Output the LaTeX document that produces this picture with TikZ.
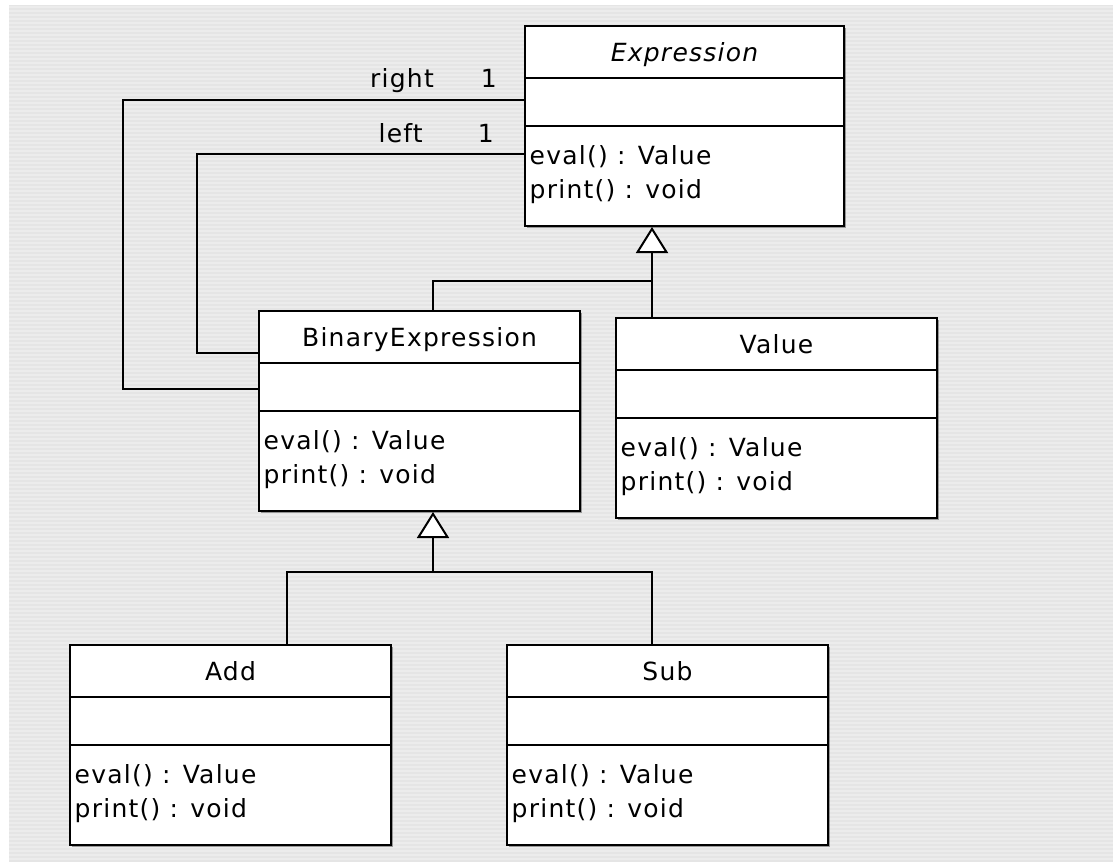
\documentclass[tikz,border=0pt]{standalone}
\usepackage{fontspec}
\setmainfont{DejaVu Sans}[LetterSpace=5]
\usetikzlibrary{arrows.meta,shadows}

\definecolor{bgdark}{HTML}{E5E5E5}
\definecolor{bglight}{HTML}{ECECEC}

\tikzset{
  classbox/.style={draw=black, line width=2pt, fill=white, minimum height=200pt,
    inner sep=0pt,
    drop shadow={shadow xshift=2pt, shadow yshift=-2pt, opacity=0.35, fill=black}},
  divider/.style={line width=2pt},
  txt/.style={inner sep=0pt, font=\fontsize{25}{29}\selectfont, text=black},
  conn/.style={line width=2pt},
  inherit/.style={conn, -{Triangle[fill=white, length=26pt, width=32pt]}},
  stripe/.style={bglight, line width=2pt},
}

% One UML class: name, top-left corner, width, title
\newcommand\umlclass[4]{%
  \node[classbox, minimum width=#3pt, anchor=north west] (#1) at (#2) {};
  \draw[divider] ([yshift=-53pt]#1.north west) -- ([yshift=-53pt]#1.north east);
  \draw[divider] ([yshift=-101pt]#1.north west) -- ([yshift=-101pt]#1.north east);
  \node[txt, anchor=base] (#1-title) at ([yshift=-36pt]#1.north) {#4};
  \node[txt, anchor=base west] (#1-op1) at ([xshift=5.5pt,yshift=-139pt]#1.north west) {eval() : Value};
  \node[txt, anchor=base west] (#1-op2) at ([xshift=5.5pt,yshift=-173pt]#1.north west) {print() : void};
}

\begin{document}
\begin{tikzpicture}[x=1pt,y=-1pt]
  \useasboundingbox (0,0) rectangle (1113,862);
  % striped canvas
  \fill[white] (0,0) rectangle (1113,862);
  \fill[bgdark] (9,5) rectangle (1113,862);
  \foreach \y in {7,11,...,862} \draw[stripe] (9,\y) -- (1113,\y);

  % classes
  \umlclass{Expression}{524,25}{319}{\itshape Expression}
  \umlclass{BinaryExpression}{258,310}{321}{BinaryExpression}
  \umlclass{Value}{615,317}{321}{Value}
  \umlclass{Add}{69,644}{321}{Add}
  \umlclass{Sub}{506,644}{321}{Sub}

  % generalisation: BinaryExpression, Value -> Expression
  \coordinate (g1l) at (433,281);
  \coordinate (g1r) at (652,281);
  \draw[conn] (BinaryExpression.north -| g1l) -- (g1l) -- (g1r);
  \draw[conn] (Value.north -| g1r) -- (g1r);
  \draw[inherit] (g1r) -- (Expression.south -| g1r);

  % generalisation: Add, Sub -> BinaryExpression
  \coordinate (g2l) at (287,572);
  \coordinate (g2m) at (433,572);
  \coordinate (g2r) at (652,572);
  \draw[conn] (Add.north -| g2l) -- (g2l) -- (g2r) -- (Sub.north -| g2r);
  \draw[inherit] (g2m) -- (BinaryExpression.south -| g2m);

  % associations right / left
  \coordinate (r1) at (123,100);
  \coordinate (r2) at (123,389);
  \draw[conn] (Expression.west |- r1) -- (r1) -- (r2) -- (BinaryExpression.west |- r2);
  \coordinate (l1) at (197,154);
  \coordinate (l2) at (197,353);
  \draw[conn] (Expression.west |- l1) -- (l1) -- (l2) -- (BinaryExpression.west |- l2);

  \node[txt, anchor=base east] (rightrole) at (434,87) {right};
  \node[txt, anchor=base east] (rightmult) at (497,87) {1};
  \node[txt, anchor=base east] (leftrole) at (423,142) {left};
  \node[txt, anchor=base east] (leftmult) at (494,142) {1};
\end{tikzpicture}
\end{document}
